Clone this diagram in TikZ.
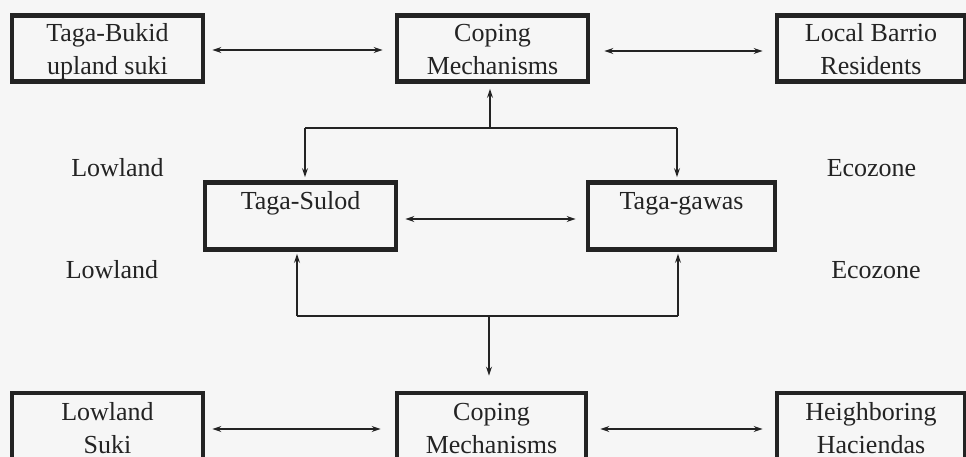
\documentclass[tikz,border=0pt]{standalone}
\usepackage{fontspec}
\setmainfont{Liberation Serif}
\usetikzlibrary{arrows.meta}
\definecolor{ink}{RGB}{35,35,35}
\definecolor{paper}{RGB}{246,246,246}
\newcommand{\bxs}{\rule[-6pt]{0pt}{32pt}}
\begin{document}
\begin{tikzpicture}[x=1pt,y=-1pt,
  box/.style={draw=ink, line width=4.8pt, inner sep=0pt, minimum height=66pt,
    align=center, text=ink, font=\fontsize{26}{33}\selectfont},
  lbl/.style={anchor=base, text=ink, inner sep=0pt, font=\fontsize{26}{32}\selectfont},
  conn/.style={draw=ink, line width=1.9pt},
  tip/.style={Stealth[length=9pt,width=6pt]},
  arr/.style={conn, -{Stealth[length=9pt,width=6pt]}},
  darr/.style={conn, {Stealth[length=9pt,width=6pt]}-{Stealth[length=9pt,width=6pt]}}]
\fill[paper] (0,0) rectangle (966,457);
\useasboundingbox (0,0) rectangle (966,457);
\clip (0,0) rectangle (966,457);
% boxes
\node[box, minimum width=191pt] (bukid) at (107.5,48.5) {\bxs Taga-Bukid\\\bxs upland suki};
\node[box, minimum width=191pt] (copingT) at (492.5,48.5) {\bxs Coping\\\bxs Mechanisms};
\node[box, minimum width=188pt] (barrio) at (871,48.5) {\bxs Local Barrio\\\bxs Residents};
\node[box, minimum width=191pt, minimum height=67pt] (sulod) at (300.5,216) {\bxs Taga-Sulod\\\bxs};
\node[box, minimum width=187pt, minimum height=67pt] (gawas) at (681.5,216) {\bxs Taga-gawas\\\bxs};
\node[box, minimum width=191pt, minimum height=67pt] (suki) at (107.5,426.5) {\bxs Lowland\\\bxs Suki};
\node[box, minimum width=189pt, minimum height=67pt] (copingB) at (491.5,426.5) {\bxs Coping\\\bxs Mechanisms};
\node[box, minimum width=188pt, minimum height=67pt] (hacienda) at (871,426.5) {\bxs Heighboring\\\bxs Haciendas};
% labels
\node[lbl] (low1) at (117.5,177) {Lowland};
\node[lbl] (low2) at (112,278) {Lowland};
\node[lbl] (eco1) at (871.5,177) {Ecozone};
\node[lbl] (eco2) at (876,278) {Ecozone};
% horizontal double arrows
\draw[darr, shorten <=7pt, shorten >=12pt] (bukid.east |- 0,50) -- (copingT.west |- 0,50);
\draw[darr, shorten <=14pt, shorten >=12pt] (copingT.east |- 0,51) -- (barrio.west |- 0,51);
\draw[darr, shorten <=7pt, shorten >=10pt] (sulod.east |- 0,219) -- (gawas.west |- 0,219);
\draw[darr, shorten <=7pt, shorten >=14pt] (suki.east |- 0,429) -- (copingB.west |- 0,429);
\draw[darr, shorten <=12pt, shorten >=12pt] (copingB.east |- 0,429) -- (hacienda.west |- 0,429);
% top junction
\coordinate (jT) at (490,128);
\coordinate (tl) at (305,128);
\coordinate (tr) at (677,128);
\draw[conn] (tl) -- (tr);
\draw[arr, shorten >=5pt] (jT) -- (jT |- copingT.south);
\draw[arr, shorten >=3pt] (tl) -- (tl |- sulod.north);
\draw[arr, shorten >=3pt] (tr) -- (tr |- gawas.north);
% bottom junction
\coordinate (jB) at (489,316);
\coordinate (bl) at (297,316);
\coordinate (br) at (678,316);
\draw[conn] (bl) -- (br);
\draw[arr, shorten >=2pt] (bl) -- (bl |- sulod.south);
\draw[arr, shorten >=2pt] (br) -- (br |- gawas.south);
\draw[arr, shorten >=15pt] (jB) -- (jB |- copingB.north);
\end{tikzpicture}
\end{document}
